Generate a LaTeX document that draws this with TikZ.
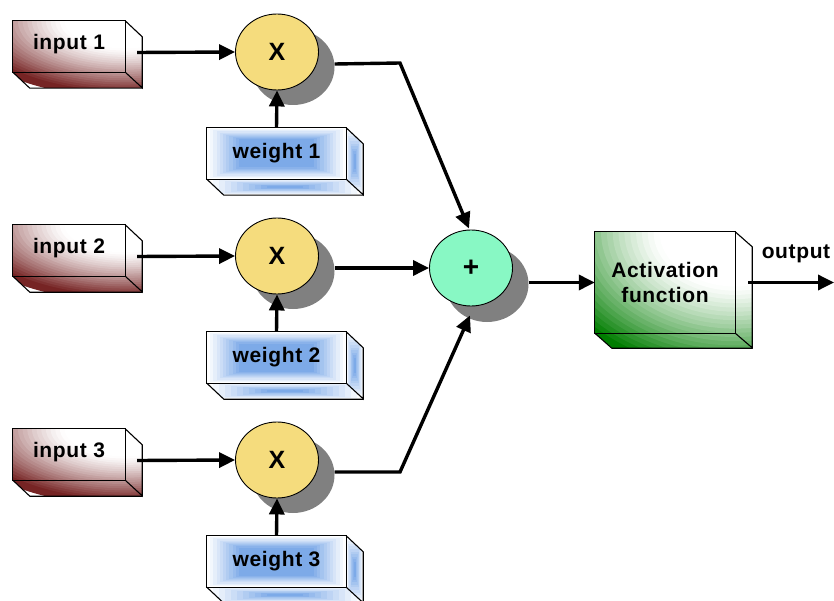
\documentclass[tikz,border=0pt]{standalone}
\usepackage{fontspec}
\setmainfont{Liberation Sans}
\newfontfamily\labfont{Liberation Sans}[LetterSpace=3]
\usetikzlibrary{arrows.meta,shapes.geometric}
\definecolor{maroonc}{RGB}{118,36,36}
\definecolor{bluec}{RGB}{125,170,232}
\definecolor{greenc}{RGB}{0,125,0}
\definecolor{yellowc}{RGB}{245,220,125}
\definecolor{mintc}{RGB}{136,248,196}
\definecolor{shadowc}{RGB}{128,128,128}
\newcommand\nestfill[6]{%
  \foreach \k [evaluate=\k as \c using int(\k*10)] in {0,...,10}{%
    \fill[bluec!\c!white] ({#1+#5*\k},{#2+#6*\k}) rectangle ({#3-#5*\k},{#4-#6*\k});}}
\newcommand\cornerfill[4]{%
  \foreach \k in {0,...,35}{%
    \pgfmathsetmacro\ss{1.5*(1-\k/36)}%
    \pgfmathtruncatemacro\pc{100*(max(0,min(1,(\ss-0.55)/0.86)))^1.3}%
    \fill[#4!\pc!white] #1 ellipse [x radius={#2*\ss}, y radius={#3*\ss}];}}
\tikzset{
  face/.style={draw=black,line width=1.1pt},
  lab/.style={font=\labfont\bfseries\fontsize{21}{25}\selectfont,align=center},
  frontbox/.style={rectangle,inner sep=0pt,lab},
  mult/.style={ellipse,draw=black,line width=0.9pt,fill=yellowc,minimum width=83pt,minimum height=76pt,inner sep=0pt,font=\bfseries\fontsize{25}{25}\selectfont},
  plusnode/.style={ellipse,draw=black,line width=0.9pt,fill=mintc,minimum width=83pt,minimum height=76pt,inner sep=0pt,font=\bfseries\fontsize{28}{28}\selectfont},
  shadownode/.style={ellipse,fill=shadowc,minimum width=83pt,minimum height=76pt,inner sep=0pt},
  arr/.style={line width=3.4pt,-{Triangle[length=16pt,width=15pt]}},
}
\begin{document}
\begin{tikzpicture}[x=1pt,y=-1pt]
\useasboundingbox (0,0) rectangle (834,601);

% ---------- input boxes ----------
\foreach \i/\yy in {1/21,2/225,3/429}{
  \node[frontbox,minimum width=112pt,minimum height=51pt] (in\i) at (69,{\yy+25.5}) {};
  \begin{scope}
    \clip (in\i.north west) -- (in\i.north east) -- ++(17,16) -- ++(0,51) -- ++(-112,0) -- (in\i.south west) -- cycle;
    \cornerfill{(in\i.north east)}{112}{51}{maroonc}
  \end{scope}
  \draw[face] (in\i.north west) rectangle (in\i.south east);
  \draw[face] (in\i.north east) -- ++(17,16) -- ++(0,51) -- (in\i.south east);
  \draw[face] (in\i.south west) -- ++(17,16) -- ++(112,0);
  \node[lab] at ([yshift=2pt]in\i.center) {input \i};
}

% ---------- weight boxes ----------
\foreach \i/\yy in {1/128,2/332,3/536}{
  \node[frontbox,minimum width=139pt,minimum height=51pt] (w\i) at (276.5,{\yy+25.5}) {};
  \nestfill{207}{\yy}{346}{\yy+51}{3.2}{1.15}
  \begin{scope}
    \clip (w\i.north east) -- ++(17,16) -- ++(0,51) -- (w\i.south east) -- cycle;
    \nestfill{346}{\yy}{363}{\yy+67}{0.75}{2.6}
  \end{scope}
  \begin{scope}
    \clip (w\i.south west) -- ++(17,16) -- ++(139,0) -- (w\i.south east) -- cycle;
    \nestfill{207}{\yy+51}{363}{\yy+67}{6}{0.7}
  \end{scope}
  \draw[face] (w\i.north west) rectangle (w\i.south east);
  \draw[face] (w\i.north east) -- ++(17,16) -- ++(0,51) -- (w\i.south east);
  \draw[face] (w\i.south west) -- ++(17,16) -- ++(139,0);
  \node[lab] at (w\i) {weight \i};
}

% ---------- activation box ----------
\node[frontbox,minimum width=140pt,minimum height=101pt] (act) at (665,282.5) {};
\begin{scope}
  \clip (act.north west) -- (act.north east) -- ++(17,15) -- ++(0,101) -- ++(-140,0) -- (act.south west) -- cycle;
  \cornerfill{(act.north east)}{140}{101}{greenc}
\end{scope}
\draw[face] (act.north west) rectangle (act.south east);
\draw[face] (act.north east) -- ++(17,15) -- ++(0,101) -- (act.south east);
\draw[face] (act.south west) -- ++(17,15) -- ++(140,0);
\node[lab] (acttext) at (665,282.5) {Activation\\function};

% ---------- circles ----------
\foreach \i/\yy in {1/52,2/256,3/460}{
  \node[shadownode] (sh\i) at (293,{\yy+15}) {};
  \node[mult] (m\i) at (277,\yy) {X};
}
\node[shadownode] (shp) at (487,284) {};
\node[plusnode] (plus) at (471,268) {+};

% ---------- connectors ----------
\foreach \i in {1,2,3}{
  \draw[arr] ([xshift=12pt,yshift=-6pt]in\i.east) -- (m\i.west);
  \draw[arr] (w\i.north) -- (m\i.south);
}
\coordinate (b1) at (400,63);
\coordinate (b3) at (400,472);
\draw[arr] ([yshift=3pt]sh1.east) -- (b1) -- ([xshift=-2pt,yshift=1pt]plus.north);
\draw[arr] ([yshift=3pt]sh2.east) -- (plus.west);
\draw[arr] ([yshift=3pt]sh3.east) -- (b3) -- ([xshift=-1pt,yshift=-9pt]plus.south);
\draw[arr] ([yshift=1.5pt]shp.east) -- (act.west);
\coordinate (outend) at (834,282.5);
\draw[arr] ([xshift=13pt]act.east) -- (outend);
\node[lab] (outlab) at (796,254) {output};
\end{tikzpicture}
\end{document}
